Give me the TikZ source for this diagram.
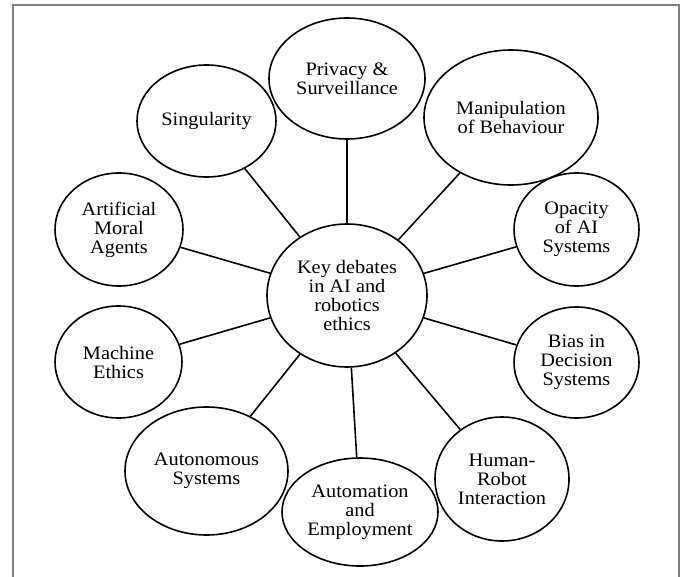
\documentclass[tikz,border=0pt]{standalone}
\usepackage{fontspec}
\setmainfont{Liberation Serif}[FakeStretch=1.07]
\usetikzlibrary{shapes.geometric}
\begin{document}
\begin{tikzpicture}[x=1pt,y=-1pt,
  topic/.style={ellipse,draw=black,line width=1.6pt,inner sep=0pt,align=center,
    font=\fontsize{19}{19}\selectfont},
  link/.style={line width=1.6pt,black},
  frame/.style={line width=1.6pt,draw={rgb,255:red,128;green,128;blue,128}}]
\useasboundingbox (0,0) rectangle (684,577);
\fill[white] (0,0) rectangle (684,577);
\draw[frame] (13,577) -- (13,5) -- (679,5) -- (679,577);

\node[topic,minimum width=160pt,minimum height=143pt] (c) at (347,295.5) {Key debates\\in AI and\\robotics\\ethics};
\node[topic,minimum width=156pt,minimum height=121pt] (priv) at (347,78.5) {Privacy \&\\Surveillance};
\node[topic,minimum width=139pt,minimum height=112pt] (sing) at (206.5,121) {Singularity};
\node[topic,minimum width=128pt,minimum height=113pt] (ama) at (119,229.5) {Artificial\\Moral\\Agents};
\node[topic,minimum width=174pt,minimum height=135pt] (manip) at (511,117.5) {Manipulation\\of Behaviour};
\node[topic,minimum width=125pt,minimum height=113pt] (opac) at (576.5,229.5) {Opacity\\of AI\\Systems};
\node[topic,minimum width=127pt,minimum height=112pt] (mach) at (118.5,362) {Machine\\Ethics};
\node[topic,minimum width=163pt,minimum height=128pt] (auto) at (206.5,471) {Autonomous\\Systems};
\node[topic,minimum width=156pt,minimum height=108pt] (empl) at (360,512) {Automation\\and\\Employment};
\node[topic,minimum width=125pt,minimum height=111pt] (bias) at (576.5,362.5) {Bias in\\Decision\\Systems};
\node[topic,minimum width=134pt,minimum height=124pt] (hri) at (502,479) {Human-\\Robot\\Interaction};

\foreach \n in {priv,sing,ama,manip,opac,mach,auto,empl,bias,hri}
  \draw[link] (c) -- (\n);
\end{tikzpicture}
\end{document}
